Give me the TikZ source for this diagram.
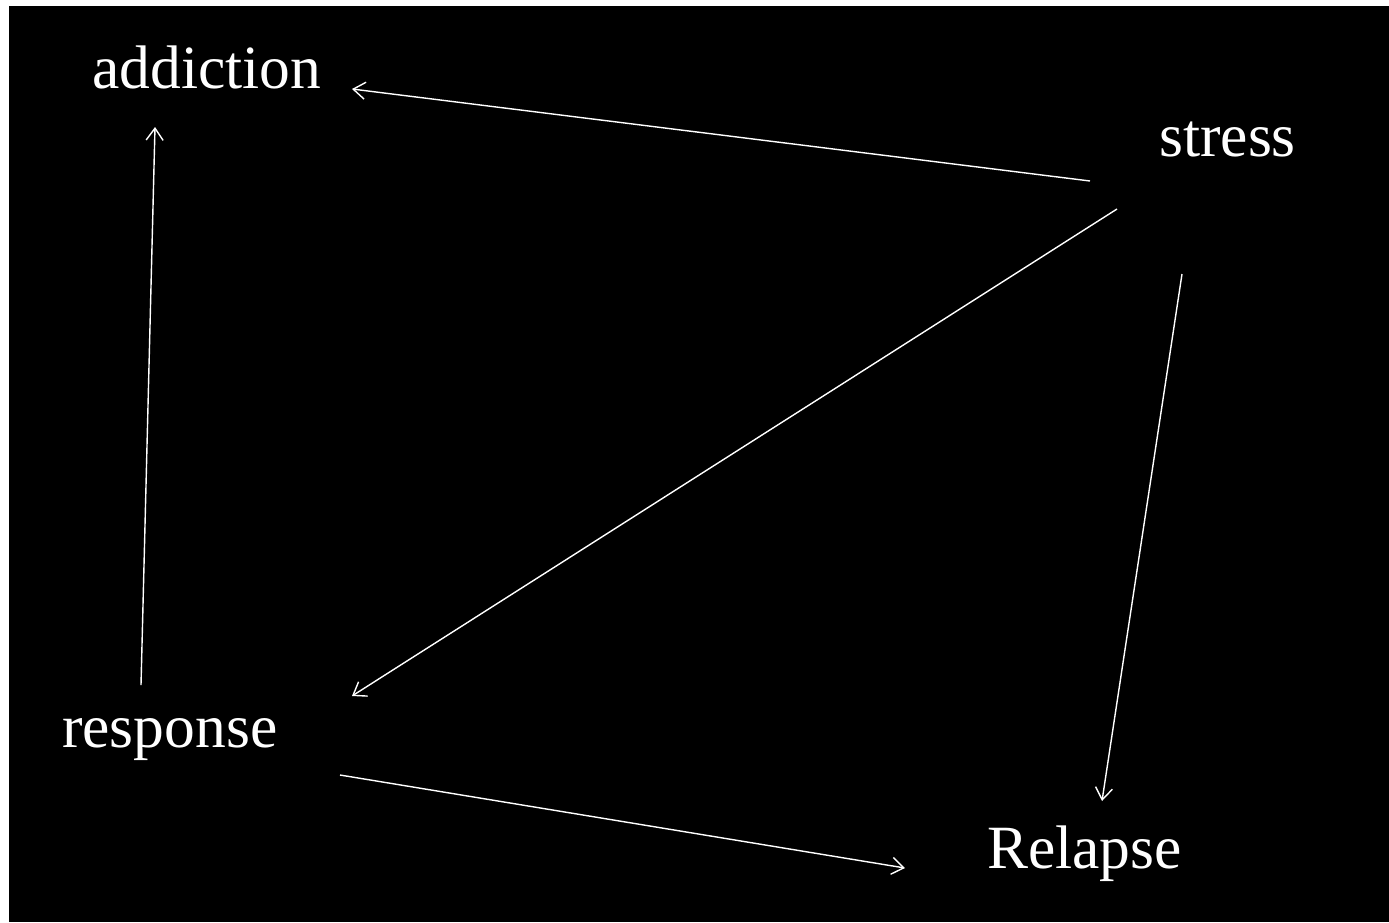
\documentclass[tikz,border=0pt]{standalone}
\usepackage{fontspec}
\setmainfont{Liberation Serif}
\usetikzlibrary{arrows.meta}
\begin{document}
\begin{tikzpicture}[x=1pt,y=-1pt,
  lbl/.style={text=white,inner sep=0pt,anchor=base west,font=\fontsize{61.5}{62}\selectfont},
  conn/.style={draw=white,line width=1.4pt,-{Straight Barb[length=12pt,width=17pt,line width=1.4pt]}}]
\useasboundingbox (0,0) rectangle (1389,922);
\fill[white] (0,0) rectangle (1389,922);
\fill[black] (9,6) rectangle (1389,922);
\node[lbl] (addiction) at (92,88) {addiction};
\node[lbl] (stress) at (1159,156) {stress};
\node[lbl] (response) at (62,747) {response};
\node[lbl] (relapse) at (987,868) {Relapse};
\coordinate (sA) at (1090,181);
\coordinate (aS) at (352,89);
\coordinate (sR) at (1117,209);
\coordinate (rS) at (352,696);
\coordinate (sL) at (1182,274);
\coordinate (lS) at (1102,801);
\coordinate (rA) at (141,685);
\coordinate (aR) at (155,127);
\coordinate (rL) at (340,775);
\coordinate (lR) at (905,868);
\draw[conn] (sA) -- (aS);
\draw[conn] (sR) -- (rS);
\draw[conn] (sL) -- (lS);
\draw[conn] (rA) -- (aR);
\draw[conn] (rL) -- (lR);
\end{tikzpicture}
\end{document}
